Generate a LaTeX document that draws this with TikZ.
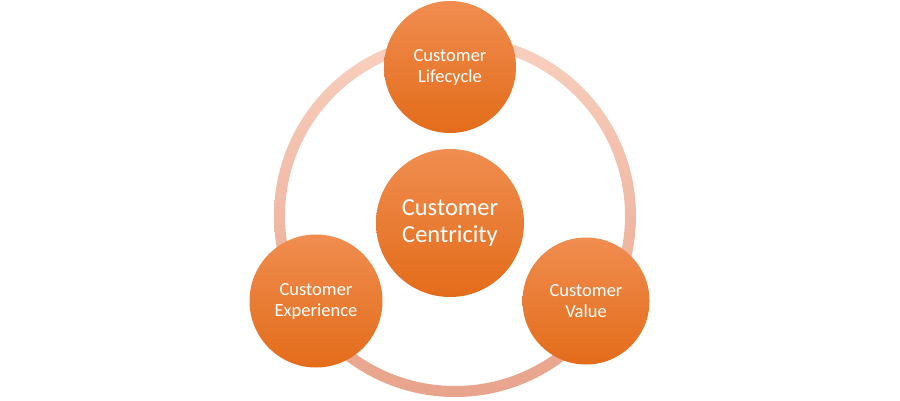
\documentclass[tikz,border=0pt]{standalone}
\usepackage{fontspec}
\setmainfont{Carlito}
\definecolor{bubtop}{HTML}{F08D50}
\definecolor{bubbot}{HTML}{E36C1A}
\definecolor{ringtop}{HTML}{F8D0BF}
\definecolor{ringbot}{HTML}{E8A38B}
\tikzset{
  bubble/.style={circle, inner sep=0pt, top color=bubtop, bottom color=bubbot,
    draw=none, text=white, align=center},
  small/.style={bubble, font=\fontsize{18.5}{21}\selectfont},
  big/.style={bubble, font=\fontsize{24.5}{27}\selectfont}
}
\begin{document}
\begin{tikzpicture}[x=1pt,y=1pt]
\useasboundingbox (0,0) rectangle (900,400);
\fill[white] (0,0) rectangle (900,400);
\coordinate (ringc) at (455,184);
\path[top color=ringtop, bottom color=ringbot, even odd rule]
  (ringc) circle[radius=181] (ringc) circle[radius=170];
\node[small, minimum size=132] (life) at (450,333) {Customer\\Lifecycle};
\node[big, minimum size=148] (cent) at (450,177) {Customer\\Centricity};
\node[small, minimum size=133] (exp) at (316,99) {Customer\\Experience};
\node[small, minimum size=127] (val) at (586,99) {Customer\\Value};
\end{tikzpicture}
\end{document}
